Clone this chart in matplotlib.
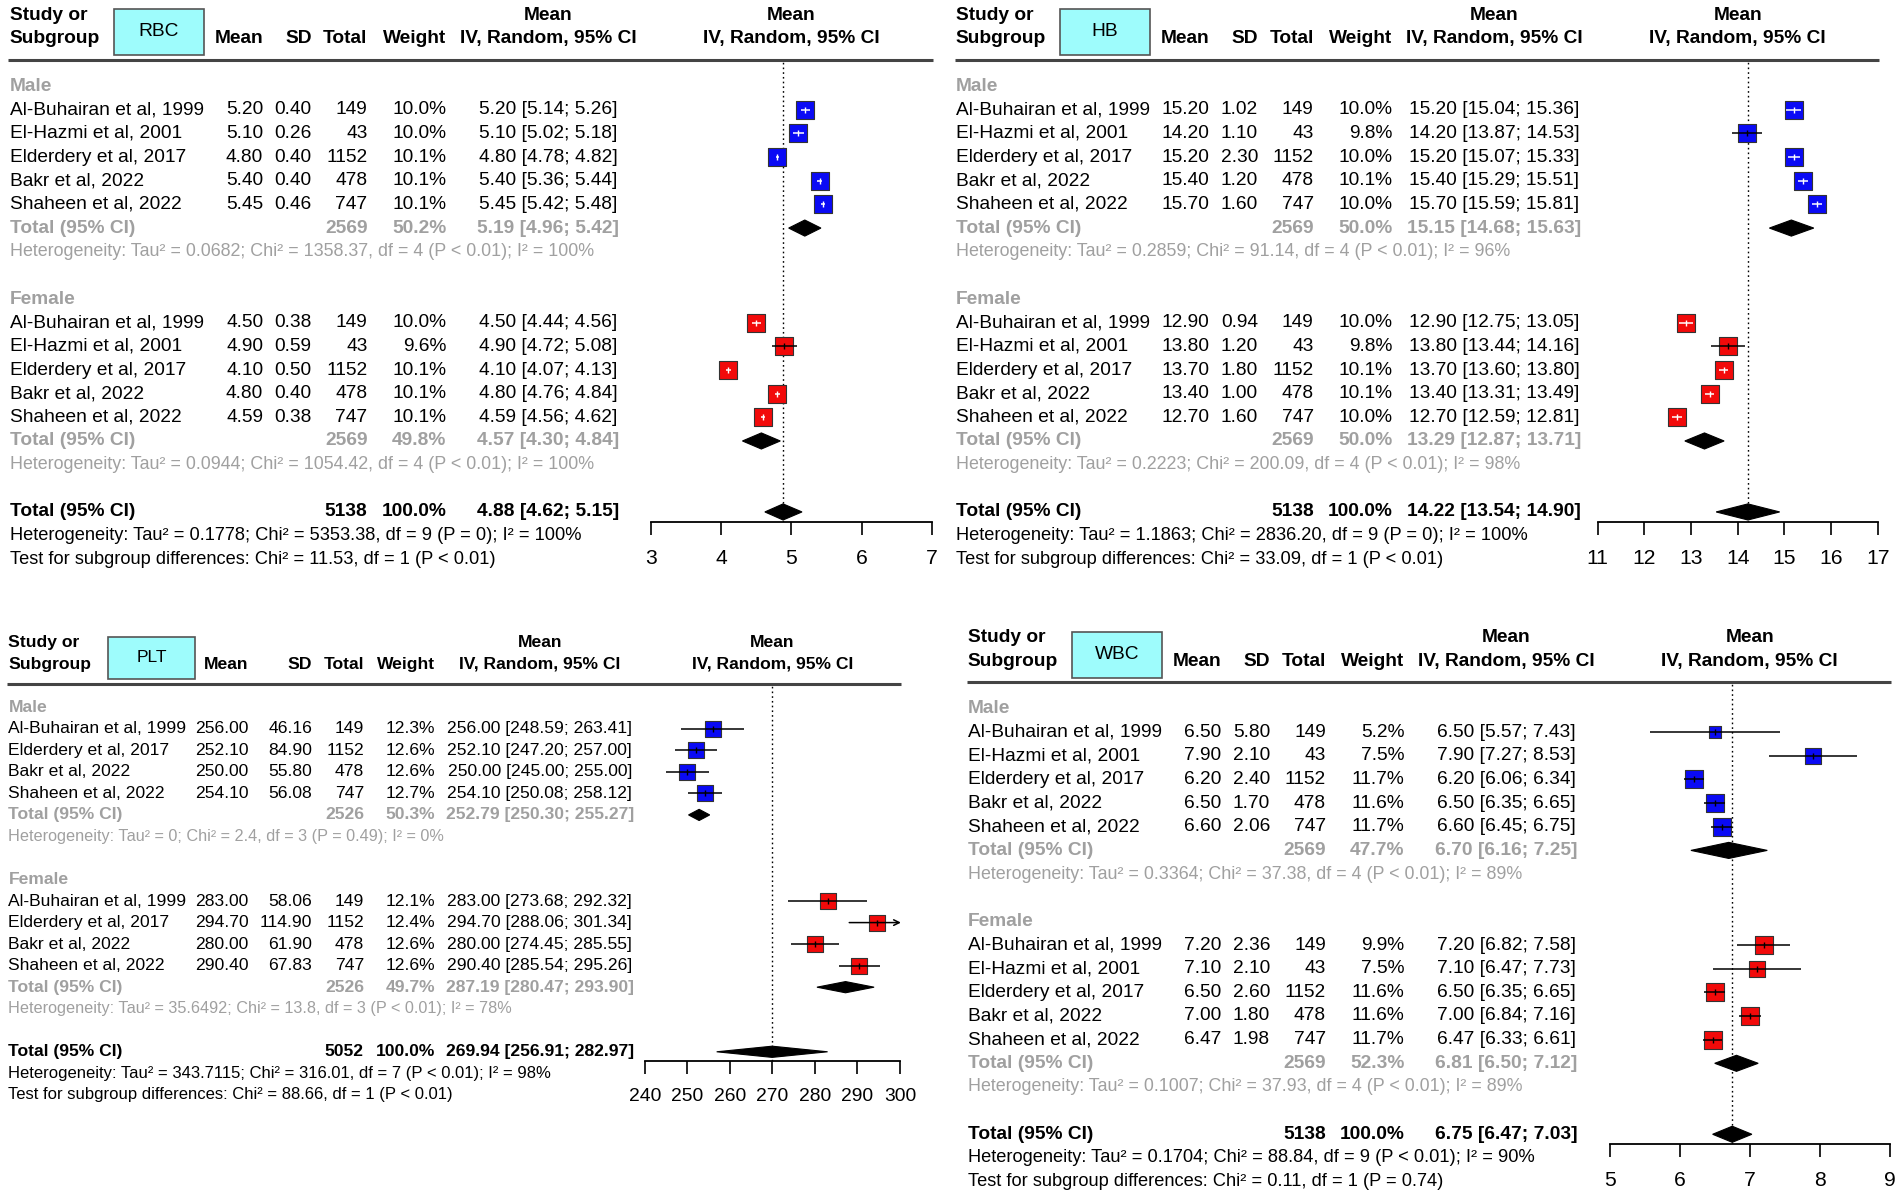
import numpy as np
import matplotlib.pyplot as plt
from matplotlib.patches import Polygon, Rectangle

plt.rcParams['font.family'] = ['Liberation Sans', 'DejaVu Sans']

# layout was measured on a 1568 x 990 copy of the figure
W_REF, H_REF = 1568.0, 990.0
PX = 1902.0 / W_REF

GRAY = '#a0a0a0'
BLUE = '#0a0af5'
RED = '#f20a0a'

studies5 = ["Al-Buhairan et al, 1999", "El-Hazmi et al, 2001", "Elderdery et al, 2017",
            "Bakr et al, 2022", "Shaheen et al, 2022"]
studies4 = ["Al-Buhairan et al, 1999", "Elderdery et al, 2017", "Bakr et al, 2022",
            "Shaheen et al, 2022"]
n5 = [149, 43, 1152, 478, 747]
n4 = [149, 1152, 478, 747]

# RBC  (male, female)
rbc_mean = [[5.20, 5.10, 4.80, 5.40, 5.45], [4.50, 4.90, 4.10, 4.80, 4.59]]
rbc_sd = [[0.40, 0.26, 0.40, 0.40, 0.46], [0.38, 0.59, 0.50, 0.40, 0.38]]
rbc_w = [[10.0, 10.0, 10.1, 10.1, 10.1], [10.0, 9.6, 10.1, 10.1, 10.1]]
rbc_lo = [[5.14, 5.02, 4.78, 5.36, 5.42], [4.44, 4.72, 4.07, 4.76, 4.56]]
rbc_hi = [[5.26, 5.18, 4.82, 5.44, 5.48], [4.56, 5.08, 4.13, 4.84, 4.62]]
rbc_sub = [[5.19, 4.96, 5.42], [4.57, 4.30, 4.84]]
rbc_sub_n = [2569, 2569]
rbc_sub_w = [50.2, 49.8]
rbc_all = [4.88, 4.62, 5.15]
rbc_all_n = 5138
rbc_het = ["Tau² = 0.0682; Chi² = 1358.37, df = 4 (P < 0.01); I² = 100%",
           "Tau² = 0.0944; Chi² = 1054.42, df = 4 (P < 0.01); I² = 100%",
           "Tau² = 0.1778; Chi² = 5353.38, df = 9 (P = 0); I² = 100%"]
rbc_test = "Chi² = 11.53, df = 1 (P < 0.01)"
rbc_ticks = [3, 4, 5, 6, 7]

# HB
hb_mean = [[15.20, 14.20, 15.20, 15.40, 15.70], [12.90, 13.80, 13.70, 13.40, 12.70]]
hb_sd = [[1.02, 1.10, 2.30, 1.20, 1.60], [0.94, 1.20, 1.80, 1.00, 1.60]]
hb_w = [[10.0, 9.8, 10.0, 10.1, 10.0], [10.0, 9.8, 10.1, 10.1, 10.0]]
hb_lo = [[15.04, 13.87, 15.07, 15.29, 15.59], [12.75, 13.44, 13.60, 13.31, 12.59]]
hb_hi = [[15.36, 14.53, 15.33, 15.51, 15.81], [13.05, 14.16, 13.80, 13.49, 12.81]]
hb_sub = [[15.15, 14.68, 15.63], [13.29, 12.87, 13.71]]
hb_sub_n = [2569, 2569]
hb_sub_w = [50.0, 50.0]
hb_all = [14.22, 13.54, 14.90]
hb_all_n = 5138
hb_het = ["Tau² = 0.2859; Chi² = 91.14, df = 4 (P < 0.01); I² = 96%",
          "Tau² = 0.2223; Chi² = 200.09, df = 4 (P < 0.01); I² = 98%",
          "Tau² = 1.1863; Chi² = 2836.20, df = 9 (P = 0); I² = 100%"]
hb_test = "Chi² = 33.09, df = 1 (P < 0.01)"
hb_ticks = [11, 12, 13, 14, 15, 16, 17]

# PLT
plt_mean = [[256.00, 252.10, 250.00, 254.10], [283.00, 294.70, 280.00, 290.40]]
plt_sd = [[46.16, 84.90, 55.80, 56.08], [58.06, 114.90, 61.90, 67.83]]
plt_w = [[12.3, 12.6, 12.6, 12.7], [12.1, 12.4, 12.6, 12.6]]
plt_lo = [[248.59, 247.20, 245.00, 250.08], [273.68, 288.06, 274.45, 285.54]]
plt_hi = [[263.41, 257.00, 255.00, 258.12], [292.32, 301.34, 285.55, 295.26]]
plt_sub = [[252.79, 250.30, 255.27], [287.19, 280.47, 293.90]]
plt_sub_n = [2526, 2526]
plt_sub_w = [50.3, 49.7]
plt_all = [269.94, 256.91, 282.97]
plt_all_n = 5052
plt_het = ["Tau² = 0; Chi² = 2.4, df = 3 (P = 0.49); I² = 0%",
           "Tau² = 35.6492; Chi² = 13.8, df = 3 (P < 0.01); I² = 78%",
           "Tau² = 343.7115; Chi² = 316.01, df = 7 (P < 0.01); I² = 98%"]
plt_test = "Chi² = 88.66, df = 1 (P < 0.01)"
plt_ticks = [240, 250, 260, 270, 280, 290, 300]

# WBC
wbc_mean = [[6.50, 7.90, 6.20, 6.50, 6.60], [7.20, 7.10, 6.50, 7.00, 6.47]]
wbc_sd = [[5.80, 2.10, 2.40, 1.70, 2.06], [2.36, 2.10, 2.60, 1.80, 1.98]]
wbc_w = [[5.2, 7.5, 11.7, 11.6, 11.7], [9.9, 7.5, 11.6, 11.6, 11.7]]
wbc_lo = [[5.57, 7.27, 6.06, 6.35, 6.45], [6.82, 6.47, 6.35, 6.84, 6.33]]
wbc_hi = [[7.43, 8.53, 6.34, 6.65, 6.75], [7.58, 7.73, 6.65, 7.16, 6.61]]
wbc_sub = [[6.70, 6.16, 7.25], [6.81, 6.50, 7.12]]
wbc_sub_n = [2569, 2569]
wbc_sub_w = [47.7, 52.3]
wbc_all = [6.75, 6.47, 7.03]
wbc_all_n = 5138
wbc_het = ["Tau² = 0.3364; Chi² = 37.38, df = 4 (P < 0.01); I² = 89%",
           "Tau² = 0.1007; Chi² = 37.93, df = 4 (P < 0.01); I² = 89%",
           "Tau² = 0.1704; Chi² = 88.84, df = 9 (P < 0.01); I² = 90%"]
wbc_test = "Chi² = 0.11, df = 1 (P = 0.74)"
wbc_ticks = [5, 6, 7, 8, 9]

# column layout (px of the 1568 wide copy, relative to panel left)
COLS_BIG = dict(mean=209, sd=249, tot=295, w=360, ci=444, f0=529, f1=760, b0=86, b1=160)
COLS_PLT = dict(mean=198, sd=250.5, tot=293, w=352, ci=438, f0=524.5, f1=735, b0=82, b1=154)


def draw_panel(fig, name, left, y0, dy, fs, cols, studies, n, mean, sd, w, lo, hi,
               sub, sub_n, sub_w, allci, all_n, het, test, ticks, sq_max, dia_h):
    k = len(studies)
    last = 2 * k + 10

    def rect(x0, x1, r0, r1):
        return [x0 / W_REF, 1 - (y0 + r1 * dy) / H_REF, (x1 - x0) / W_REF, (r1 - r0) * dy / H_REF]

    f0, f1 = cols['f0'], cols['f1']
    tax = fig.add_axes(rect(left - 2, left + f1 + 2, -3.6, last + 0.8))
    tax.set_xlim(-2, f1 + 2)
    tax.set_ylim(last + 0.8, -3.6)
    tax.axis('off')

    # header
    hk = dict(fontsize=fs, fontweight='bold', va='center')
    tax.text(0, -3, "Study or", ha='left', **hk)
    tax.text(0, -2, "Subgroup", ha='left', **hk)
    tax.add_patch(Rectangle((cols['b0'], -3.25), cols['b1'] - cols['b0'], 1.95,
                            fc='#9efcfc', ec='#555555', lw=1.2))
    tax.text((cols['b0'] + cols['b1']) / 2, -2.3, name, ha='center', va='center', fontsize=fs)
    tax.text(cols['mean'], -2, "Mean", ha='right', **hk)
    tax.text(cols['sd'], -2, "SD", ha='right', **hk)
    tax.text(cols['tot'], -2, "Total", ha='right', **hk)
    tax.text(cols['w'], -2, "Weight", ha='right', **hk)
    tax.text(cols['ci'], -3, "Mean", ha='center', **hk)
    tax.text(cols['ci'], -2, "IV, Random, 95% CI", ha='center', **hk)
    tax.text((f0 + f1) / 2, -3, "Mean", ha='center', **hk)
    tax.text((f0 + f1) / 2, -2, "IV, Random, 95% CI", ha='center', **hk)
    tax.plot([-1, f1 + 1], [-1.1, -1.1], color='#444444', lw=2.2, solid_capstyle='butt')

    # forest axes
    bottom = 2 * k + 8.42
    fax = fig.add_axes(rect(left + f0, left + f1, -1.1, bottom))
    fax.set_xlim(ticks[0], ticks[-1])
    fax.set_ylim(bottom, -1.1)
    fax.patch.set_visible(False)
    for s in ['top', 'right', 'left']:
        fax.spines[s].set_visible(False)
    fax.spines['bottom'].set_linewidth(1.3)
    fax.set_yticks([])
    fax.set_xticks(ticks)
    fax.set_xticklabels([str(t) for t in ticks])
    fax.tick_params(axis='x', direction='out', length=9.5, width=1.2, labelsize=fs * 1.1, pad=10)
    fax.axvline(allci[0], color='black', lw=1.0, ls=(0, (1.2, 2.2)), zorder=1)

    px_unit = (f1 - f0) / (ticks[-1] - ticks[0])
    wmax = max(max(g) for g in w)

    groups = [("Male", BLUE), ("Female", RED)]
    for g, (label, color) in enumerate(groups):
        base = g * (k + 4)
        tax.text(0, base, label, ha='left', va='center', fontsize=fs, color=GRAY, fontweight='bold')
        for i in range(k):
            r = base + 1 + i
            tax.text(0, r, studies[i], ha='left', va='center', fontsize=fs)
            tax.text(cols['mean'], r, f"{mean[g][i]:.2f}", ha='right', va='center', fontsize=fs)
            tax.text(cols['sd'], r, f"{sd[g][i]:.2f}", ha='right', va='center', fontsize=fs)
            tax.text(cols['tot'], r, str(n[i]), ha='right', va='center', fontsize=fs)
            tax.text(cols['w'], r, f"{w[g][i]:.1f}%", ha='right', va='center', fontsize=fs)
            tax.text(cols['ci'], r, f"{mean[g][i]:.2f} [{lo[g][i]:.2f}; {hi[g][i]:.2f}]",
                     ha='center', va='center', fontsize=fs)

            side = sq_max * np.sqrt(w[g][i] / wmax)
            side_pt = side * PX * 72 / 100
            inside = (hi[g][i] - lo[g][i]) / 2 * px_unit < side / 2
            lc = 'white' if inside else 'black'
            fax.scatter([mean[g][i]], [r], s=side_pt ** 2, marker='s', c=color,
                        edgecolors='#333333', linewidths=0.8, zorder=3)
            if hi[g][i] > ticks[-1]:
                fax.annotate('', xy=(ticks[-1] + 0.2, r), xytext=(lo[g][i], r),
                             arrowprops=dict(arrowstyle='->', lw=1.1, color=lc,
                                             shrinkA=0, shrinkB=0, mutation_scale=10),
                             annotation_clip=False, zorder=4)
            else:
                fax.plot([lo[g][i], hi[g][i]], [r, r], color=lc, lw=1.1, zorder=4,
                         solid_capstyle='butt')
            fax.plot([mean[g][i]], [r], marker='|', ms=5, mew=1.0, color=lc, zorder=5)

        r = base + k + 1
        gk = dict(va='center', fontsize=fs, color=GRAY, fontweight='bold')
        tax.text(0, r, "Total (95% CI)", ha='left', **gk)
        tax.text(cols['tot'], r, str(sub_n[g]), ha='right', **gk)
        tax.text(cols['w'], r, f"{sub_w[g]:.1f}%", ha='right', **gk)
        tax.text(cols['ci'], r, f"{sub[g][0]:.2f} [{sub[g][1]:.2f}; {sub[g][2]:.2f}]", ha='center', **gk)
        tax.text(0, r + 1, "Heterogeneity: " + het[g], ha='left', va='center',
                 fontsize=fs * 0.93, color=GRAY)
        est, l, h = sub[g]
        fax.add_patch(Polygon([[l, r], [est, r - dia_h], [h, r], [est, r + dia_h]],
                              closed=True, fc='black', ec='black', lw=0.8, zorder=3))

    r = 2 * k + 8
    ok = dict(va='center', fontsize=fs, color='black', fontweight='bold')
    tax.text(0, r, "Total (95% CI)", ha='left', **ok)
    tax.text(cols['tot'], r, str(all_n), ha='right', **ok)
    tax.text(cols['w'], r, "100.0%", ha='right', **ok)
    tax.text(cols['ci'], r, f"{allci[0]:.2f} [{allci[1]:.2f}; {allci[2]:.2f}]", ha='center', **ok)
    tax.text(0, r + 1, "Heterogeneity: " + het[2], ha='left', va='center', fontsize=fs * 0.95)
    tax.text(0, r + 2, "Test for subgroup differences: " + test, ha='left', va='center',
             fontsize=fs * 0.95)
    est, l, h = allci
    fax.add_patch(Polygon([[l, r], [est, r - dia_h], [h, r], [est, r + dia_h]],
                          closed=True, fc='black', ec='black', lw=0.8, zorder=3, clip_on=False))


fig = plt.figure(figsize=(19.02, 12.01), dpi=100)

draw_panel(fig, "RBC", 8, 71, 19.5, 13.8, COLS_BIG, studies5, n5, rbc_mean, rbc_sd, rbc_w,
           rbc_lo, rbc_hi, rbc_sub, rbc_sub_n, rbc_sub_w, rbc_all, rbc_all_n, rbc_het,
           rbc_test, rbc_ticks, 15.5, 0.34)
draw_panel(fig, "HB", 788, 71, 19.5, 13.8, COLS_BIG, studies5, n5, hb_mean, hb_sd, hb_w,
           hb_lo, hb_hi, hb_sub, hb_sub_n, hb_sub_w, hb_all, hb_all_n, hb_het,
           hb_test, hb_ticks, 15.5, 0.34)
draw_panel(fig, "PLT", 7, 583, 17.75, 12.6, COLS_PLT, studies4, n4, plt_mean, plt_sd, plt_w,
           plt_lo, plt_hi, plt_sub, plt_sub_n, plt_sub_w, plt_all, plt_all_n, plt_het,
           plt_test, plt_ticks, 14.0, 0.26)
draw_panel(fig, "WBC", 798, 584, 19.5, 13.8, COLS_BIG, studies5, n5, wbc_mean, wbc_sd, wbc_w,
           wbc_lo, wbc_hi, wbc_sub, wbc_sub_n, wbc_sub_w, wbc_all, wbc_all_n, wbc_het,
           wbc_test, wbc_ticks, 15.5, 0.34)

fig.savefig('out.png', dpi=100)
